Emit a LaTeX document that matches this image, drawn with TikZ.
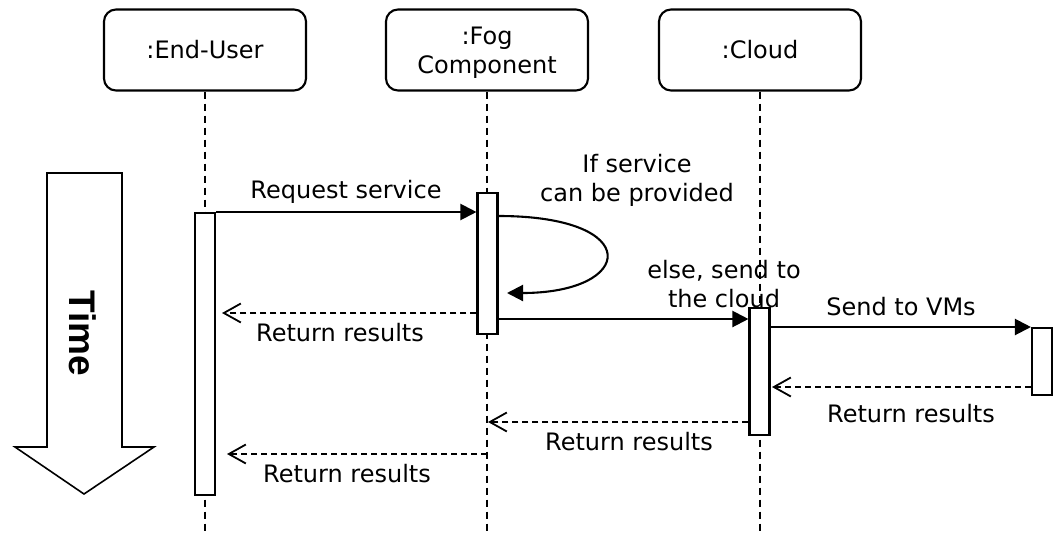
\documentclass[tikz,border=0pt]{standalone}
\usepackage{fontspec}
\setmainfont{DejaVu Sans}
\newfontfamily\timefont{Liberation Sans}
\usetikzlibrary{arrows.meta}

\begin{document}
\begin{tikzpicture}[x=1pt, y=-1pt, line width=2.1pt,
    font=\fontsize{24}{29}\selectfont,
    obj/.style={draw, rounded corners=12pt, minimum width=202pt, minimum height=81pt, align=center, inner sep=0pt},
    act/.style={draw, fill=white, minimum width=20pt, inner sep=0pt, anchor=north},
    life/.style={line width=1.8pt, dash pattern=on 7pt off 5pt},
    call/.style={-{Triangle[length=16pt, width=16pt]}},
    reply/.style={line width=1.8pt, dash pattern=on 6pt off 4pt, -{Straight Barb[length=17pt, width=19pt]}},
    lbl/.style={inner sep=0pt, align=center}]
  \useasboundingbox (0,0) rectangle (1059,533);

  % objects and lifelines
  \node[obj] (user) at (205,50) {:End-User};
  \node[obj, text depth=0pt] (fog) at (487,50) {:Fog\\Component};
  \node[obj] (cloud) at (760,50) {:Cloud};
  \draw[life] (user.south) -- (205,533);
  \draw[life] (fog.south) -- (487,533);
  \draw[life] (cloud.south) -- (760,533);

  % activations
  \node[act, minimum height=282pt] (uact) at (205,212) {};
  \node[act, minimum height=141pt] (fact) at (487.5,192) {};
  \node[act, minimum height=127pt] (cact) at (759.5,307) {};
  \node[act, minimum height=67pt] (vact) at (1042,327) {};

  % messages
  \draw[call] (uact.north east) -- (fact.west |- uact.north east);
  \node[lbl] (req) at (346,192) {Request service};

  \draw[call] ([yshift=-24pt]fact.north east)
        .. controls (645,216) and (635,293) .. (507,293);
  \node[lbl] (cond) at (637,180) {If service\\can be provided};

  \draw[reply] (fact.west |- 0,313) -- (222,313);
  \node[lbl] (ret1) at (340,333) {Return results};

  \draw[call] (fact.east |- 0,319) -- (cact.west |- 0,319);
  \node[lbl] (els) at (724,284) {else, send to\\the cloud};

  \draw[call] (cact.north east |- vact.north) -- (vact.north west);
  \node[lbl] (vms) at (901,307) {Send to VMs};

  \draw[reply] (vact.west |- 0,387) -- (772,387);
  \node[lbl] (ret2) at (911,414) {Return results};

  \draw[reply] (cact.west |- 0,422) -- (488,422);
  \node[lbl] (ret3) at (629,442) {Return results};

  \draw[reply] (487,454) -- (227,454);
  \node[lbl] (ret4) at (347,474) {Return results};

  % time arrow
  \draw[line width=1.6pt] (47,173) -- (122,173) -- (122,447) -- (154,447)
        -- (84,494) -- (15,447) -- (47,447) -- cycle;
  \node[lbl, rotate=-90, font=\timefont\bfseries\fontsize{37}{40}\selectfont] (time) at (83,333) {Time};
\end{tikzpicture}
\end{document}
